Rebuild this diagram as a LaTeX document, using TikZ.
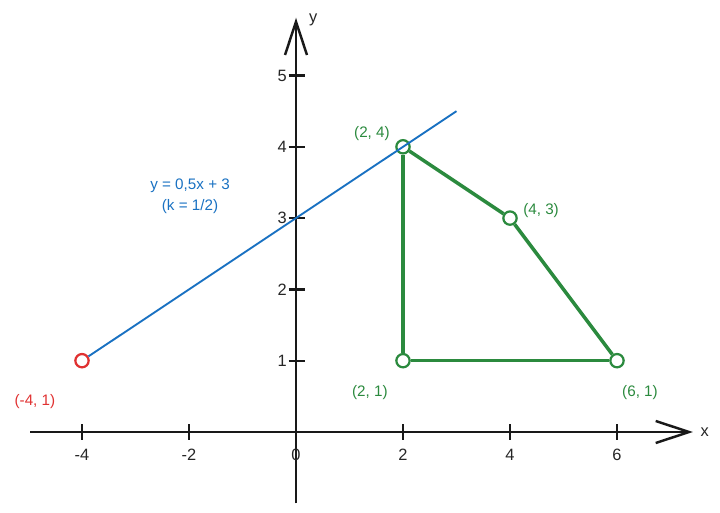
\documentclass[tikz,border=0pt]{standalone}
\usepackage{fontspec}
\setmainfont{Liberation Sans}
\usetikzlibrary{arrows.meta}
\definecolor{lineblue}{HTML}{1971C2}
\definecolor{polygreen}{HTML}{2B8A3E}
\definecolor{pointred}{HTML}{E03131}
\begin{document}
\begin{tikzpicture}[x=1.605cm,y=2.139cm]
    \tikzstyle{axis}=[line width=2.1pt,black!90,-{Straight Barb[length=1cm,width=0.66cm]}]
    \tikzstyle{tick}=[line width=1.9pt,black!90]
    \tikzstyle{num}=[font=\fontsize{14}{16}\selectfont,text=black!85]
    \tikzstyle{lbl}=[font=\fontsize{13}{18}\selectfont]
    \tikzstyle{vtx}=[circle,draw=polygreen,line width=1.9pt,fill=white,minimum size=0.4cm,inner sep=0pt]
    \tikzstyle{edge}=[polygreen,line width=3pt]
    \useasboundingbox (-8.88cm,-2.4cm) rectangle (12.72cm,12.96cm);
    % axes
    \coordinate (xs) at (-4.97,0);
    \coordinate (xe) at (7.42,0);
    \coordinate (ys) at (0,-1.0);
    \coordinate (ye) at (0,5.81);
    \draw[axis] (xs) -- (xe);
    \draw[axis] (ys) -- (ye);
    \node[num] (xlab) at (7.64,0) {x};
    \node[num] (ylab) at (0.32,5.78) {y};
    \foreach \i in {-4,-2,0,2,4,6}
      {
      \draw[tick] (\i,0.11) -- (\i,-0.11);
      \node[num] (xt\i) at (\i,-0.32) {\i};
      }
    \foreach \j in {1,...,5}
      {
      \draw[tick] (-0.14,\j) -- (0.17,\j);
      \node[num] (yt\j) at (-0.26,\j) {\j};
      }
    % polygon
    \node[vtx] (a) at (2,4) {};
    \node[vtx] (b) at (4,3) {};
    \node[vtx] (c) at (6,1) {};
    \node[vtx] (d) at (2,1) {};
    \draw[edge] (a) -- (b);
    \draw[edge] (b) -- (c);
    \draw[edge] (c) -- (d);
    \draw[edge] (d) -- (a);
    \node[lbl,text=polygreen] (alab) at (1.42,4.18) {(2, 4)};
    \node[lbl,text=polygreen] (blab) at (4.58,3.10) {(4, 3)};
    \node[lbl,text=polygreen] (clab) at (6.43,0.55) {(6, 1)};
    \node[lbl,text=polygreen] (dlab) at (1.38,0.55) {(2, 1)};
    % line
    \node[circle,draw=pointred,line width=1.9pt,fill=white,minimum size=0.4cm,inner sep=0pt] (p) at (-4,1) {};
    \coordinate (q) at (3,4.5);
    \draw[lineblue,line width=1.6pt] (p) -- (q);
    \node[lbl,text=lineblue,align=center] (eq) at (-1.98,3.30) {y = 0,5x + 3\\(k = 1/2)};
    \node[lbl,text=pointred] (plab) at (-4.88,0.42) {(-4, 1)};
  \end{tikzpicture}
\end{document}
